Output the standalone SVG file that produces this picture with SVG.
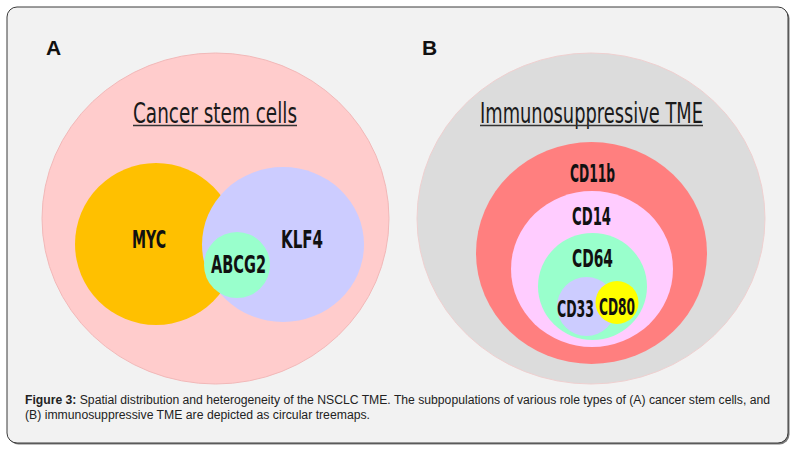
<svg xmlns="http://www.w3.org/2000/svg" width="796" height="454" viewBox="0 0 796 454">
<defs>
<style>
.lbl{font-family:"Liberation Sans Narrow","DejaVu Sans Condensed","Liberation Sans",Arial,sans-serif;font-weight:bold;fill:#111;text-anchor:start}
.ttl{font-family:"Liberation Sans Narrow","DejaVu Sans Condensed","Liberation Sans",Arial,sans-serif;font-size:28px;fill:#1a1a1a}
.pan{font-family:"Liberation Sans","DejaVu Sans",Arial,sans-serif;font-weight:bold;font-size:21px;fill:#111}
.cap{font-family:"Liberation Sans",Arial,sans-serif;font-size:12px;fill:#222}
</style>
</defs>
<rect x="0" y="0" width="796" height="454" fill="#ffffff"/>
<rect x="8.5" y="8.5" width="781" height="436" rx="10" fill="#7a7a7a"/>
<rect x="7" y="7" width="781" height="436" rx="10" fill="#f2f2f2" stroke="#3a3a3a" stroke-width="1"/>

<g id="panelA">
  <g id="cancer-stem-cells">
    <ellipse cx="215.5" cy="218.5" rx="173.5" ry="165.5" fill="#ffcccc" stroke="#f2b8b8" stroke-width="1"/>
    <text class="ttl" x="133" y="123" textLength="164" lengthAdjust="spacingAndGlyphs">Cancer stem cells</text>
    <line x1="133" y1="125.5" x2="297" y2="125.5" stroke="#333" stroke-width="1.3"/>
  </g>
  <g id="myc">
    <ellipse cx="156" cy="244" rx="81" ry="81" fill="#ffc000"/>
    <text class="lbl" x="132" y="248" font-size="24" textLength="34" lengthAdjust="spacingAndGlyphs">MYC</text>
  </g>
  <g id="klf4">
    <ellipse cx="283" cy="244.5" rx="81" ry="77.5" fill="#ccccff"/>
    <text class="lbl" x="281" y="248" font-size="24" textLength="42" lengthAdjust="spacingAndGlyphs">KLF4</text>
  </g>
  <g id="abcg2">
    <circle cx="237" cy="265" r="33" fill="#99ffcc"/>
    <text class="lbl" x="211" y="273" font-size="24" textLength="55" lengthAdjust="spacingAndGlyphs">ABCG2</text>
  </g>
  <text class="pan" x="46" y="55">A</text>
</g>

<g id="panelB">
  <g id="immunosuppressive-tme">
    <ellipse cx="591" cy="218.5" rx="174" ry="165.5" fill="#dcdcdc" stroke="#efd0d0" stroke-width="1"/>
    <text class="ttl" x="480" y="123" textLength="223" lengthAdjust="spacingAndGlyphs">Immunosuppressive TME</text>
    <line x1="480" y1="125.5" x2="703" y2="125.5" stroke="#333" stroke-width="1.3"/>
  </g>
  <g id="cd11b">
    <ellipse cx="591.5" cy="253" rx="115.5" ry="111" fill="#ff7f7f"/>
    <text class="lbl" x="570" y="182" font-size="24" textLength="45" lengthAdjust="spacingAndGlyphs">CD11b</text>
  </g>
  <g id="cd14">
    <ellipse cx="592" cy="269" rx="81" ry="78" fill="#ffccff"/>
    <text class="lbl" x="572" y="225" font-size="24" textLength="39" lengthAdjust="spacingAndGlyphs">CD14</text>
  </g>
  <g id="cd64">
    <ellipse cx="592.5" cy="286.5" rx="54.5" ry="53.5" fill="#99ffcc"/>
    <text class="lbl" x="572" y="267" font-size="24" textLength="41" lengthAdjust="spacingAndGlyphs">CD64</text>
  </g>
  <g id="cd33">
    <circle cx="586.5" cy="306.5" r="29.5" fill="#ccccff"/>
  </g>
  <g id="cd80">
    <circle cx="617" cy="302.5" r="21.5" fill="#ffff00"/>
    <text class="lbl" x="599" y="315" font-size="23" textLength="36" lengthAdjust="spacingAndGlyphs">CD80</text>
  </g>
  <text class="lbl" x="594" y="317" font-size="23" textLength="37" lengthAdjust="spacingAndGlyphs" style="text-anchor:end">CD33</text>
  <text class="pan" x="422" y="55">B</text>
</g>

<g id="connectors"></g>

<g id="caption">
  <text class="cap" x="25" y="404" textLength="745" lengthAdjust="spacingAndGlyphs"><tspan font-weight="bold">Figure 3:</tspan> Spatial distribution and heterogeneity of the NSCLC TME. The subpopulations of various role types of (A) cancer stem cells, and</text>
  <text class="cap" x="25" y="419" textLength="345" lengthAdjust="spacingAndGlyphs">(B) immunosuppressive TME are depicted as circular treemaps.</text>
</g>
</svg>
